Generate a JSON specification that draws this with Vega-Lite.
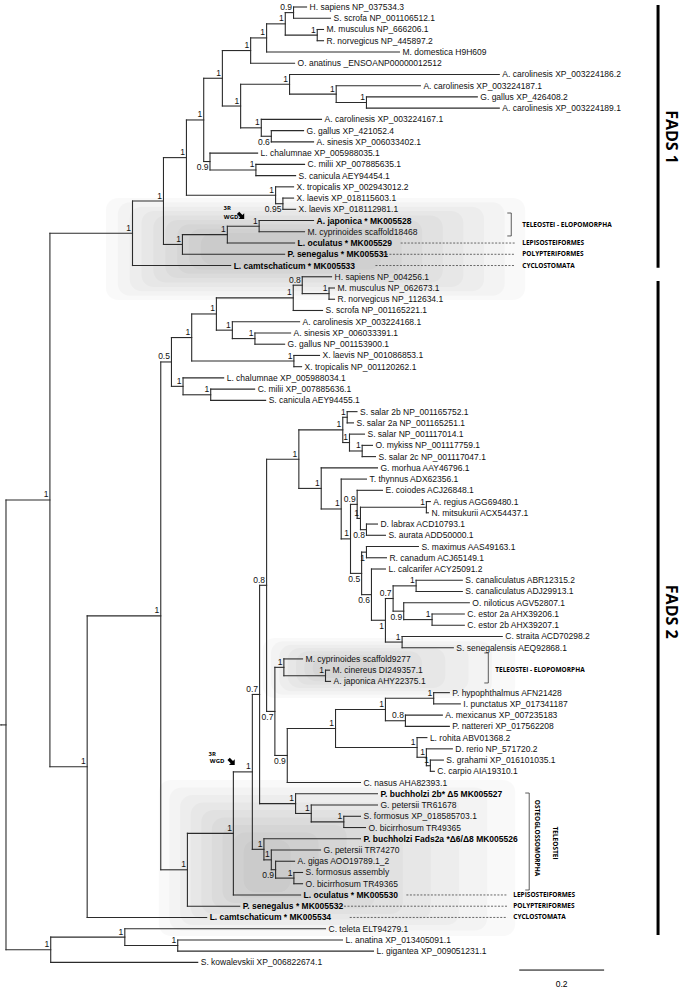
{
"$schema":"https://vega.github.io/schema/vega-lite/v6.json",
"autosize":{"type":"fit","contains":"padding"},
"width":685,"height":990,"padding":0,"background":"white",
"config":{"view":{"stroke":null}},
"datasets":{
"tree":[
{"id":"stub","p":null,"x":-0.0118,"y":64.87},
{"id":"root","p":"stub","x":0,"y":64.87},
{"id":"top","p":"root","x":0.1035,"y":44.86,"s":"1"},
{"id":"FC","p":"root","x":0.1054,"y":84.875,"s":"1"},
{"id":"FB","p":"FC","x":0.28,"y":83.75,"s":"1"},
{"id":"FA","p":"FB","x":0.4047,"y":84.5,"s":"1"},
{"id":"Z","p":"top","x":0.2981,"y":21.13,"s":"1"},
{"id":"Y","p":"Z","x":0.3711,"y":18.26,"s":"1"},
{"id":"R","p":"Y","x":0.4252,"y":14.4,"s":"1"},
{"id":"X","p":"Y","x":0.4158,"y":22.125,"s":"1"},
{"id":"W","p":"X","x":0.5216,"y":21.25,"s":"1"},
{"id":"V","p":"W","x":0.5965,"y":20.5,"s":"1"},
{"id":"Q","p":"R","x":0.4659,"y":11.05,"s":"1"},
{"id":"T","p":"R","x":0.6353,"y":17.75,"s":"1"},
{"id":"S","p":"T","x":0.6525,"y":18.5,"s":"0.95"},
{"id":"F","p":"Q","x":0.5099,"y":7.34,"s":"1"},
{"id":"P","p":"Q","x":0.4807,"y":14.75,"s":"0.9"},
{"id":"O","p":"P","x":0.5889,"y":15.5,"s":"1"},
{"id":"E","p":"F","x":0.5765,"y":4.875,"s":"1"},
{"id":"L","p":"F","x":0.5529,"y":9.81,"s":"1"},
{"id":"D","p":"E","x":0.6141,"y":3.75,"s":"1"},
{"id":"C","p":"D","x":0.6581,"y":2.5,"s":"1"},
{"id":"A","p":"C","x":0.6776,"y":1.5,"s":"0.9"},
{"id":"B","p":"C","x":0.7334,"y":3.5,"s":"1"},
{"id":"I","p":"L","x":0.6682,"y":7.875,"s":"1"},
{"id":"H","p":"I","x":0.7781,"y":8.75,"s":"1"},
{"id":"G","p":"H","x":0.8494,"y":9.5,"s":"1"},
{"id":"K","p":"L","x":0.6016,"y":11.75,"s":"1"},
{"id":"J","p":"K","x":0.6252,"y":12.5,"s":"0.6"},
{"id":"AA","p":"top","x":0.1913,"y":68.59,"s":"1"},
{"id":"BL","p":"AA","x":0.3647,"y":55.17,"s":"1"},
{"id":"BK","p":"BL","x":0.3899,"y":32.58,"s":"0.5"},
{"id":"BH","p":"BK","x":0.4376,"y":30.41,"s":"1"},
{"id":"BJ","p":"BK","x":0.4172,"y":34.75,"s":"1"},
{"id":"BI","p":"BJ","x":0.4824,"y":35.5,"s":"1"},
{"id":"BF","p":"BH","x":0.4958,"y":28.31,"s":"1"},
{"id":"BG","p":"BH","x":0.6784,"y":32.5,"s":"1"},
{"id":"BC","p":"BF","x":0.6769,"y":26.875,"s":"1"},
{"id":"BE","p":"BF","x":0.5334,"y":29.75,"s":"1"},
{"id":"BA","p":"BC","x":0.6981,"y":25.75,"s":"0.8"},
{"id":"BB","p":"BA","x":0.7612,"y":26.5,"s":"1"},
{"id":"BD","p":"BE","x":0.5866,"y":30.5,"s":"1"},
{"id":"BM","p":"BL","x":0.4275,"y":77.76,"s":"1"},
{"id":"BN","p":"BM","x":0.5358,"y":74.52,"s":"1"},
{"id":"BO","p":"BN","x":0.5805,"y":69.05,"s":"1"},
{"id":"BS","p":"BO","x":0.5976,"y":62.16,"s":"0.7"},
{"id":"BQ","p":"BO","x":0.6078,"y":75.94,"s":"1"},
{"id":"CW","p":"BS","x":0.6141,"y":52.45,"s":"0.8"},
{"id":"BR","p":"BS","x":0.6824,"y":71.875,"s":"1"},
{"id":"EB","p":"BR","x":0.7193,"y":72.75,"s":"1"},
{"id":"EA","p":"EB","x":0.796,"y":73.5,"s":"1"},
{"id":"EE","p":"BQ","x":0.6252,"y":76.875,"s":"1"},
{"id":"ED","p":"EE","x":0.6353,"y":77.75,"s":"0.9"},
{"id":"EC","p":"ED","x":0.6784,"y":78.5,"s":"1"},
{"id":"CV","p":"CW","x":0.6901,"y":41.23,"s":"1"},
{"id":"DK","p":"CW","x":0.6336,"y":63.67,"s":"0.7"},
{"id":"CD","p":"CV","x":0.7936,"y":38.625,"s":"1"},
{"id":"CU","p":"CV","x":0.7428,"y":43.83,"s":"1"},
{"id":"CA","p":"CD","x":0.804,"y":37.5,"s":"1"},
{"id":"CC","p":"CD","x":0.8094,"y":39.75,"s":"1"},
{"id":"CB","p":"CC","x":0.8393,"y":40.5,"s":"1"},
{"id":"CT","p":"CU","x":0.7899,"y":45.66,"s":"1"},
{"id":"CS","p":"CT","x":0.8118,"y":48.32,"s":"1"},
{"id":"CH","p":"CS","x":0.8275,"y":45.25,"s":"0.9"},
{"id":"CG","p":"CH","x":0.8353,"y":46.5,"s":"1"},
{"id":"CE","p":"CG","x":0.9906,"y":45.5,"s":"1"},
{"id":"CF","p":"CG","x":0.8494,"y":47.5,"s":"0.8"},
{"id":"CR","p":"CS","x":0.838,"y":51.39,"s":"0.5"},
{"id":"CI","p":"CR","x":0.8494,"y":49.5,"s":"1"},
{"id":"CQ","p":"CR","x":0.8612,"y":53.28,"s":"0.6"},
{"id":"CO","p":"CQ","x":0.8941,"y":55.56,"s":"1"},
{"id":"CN","p":"CO","x":0.9122,"y":53.625,"s":"0.7"},
{"id":"CP","p":"CO","x":0.9334,"y":57.5,"s":"1"},
{"id":"CK","p":"CN","x":0.9664,"y":52.5,"s":"1"},
{"id":"CM","p":"CN","x":0.9372,"y":54.75,"s":"0.9"},
{"id":"CL","p":"CM","x":1.004,"y":55.5,"s":"1"},
{"id":"DB","p":"DK","x":0.6548,"y":59.75,"s":"1"},
{"id":"DA","p":"DB","x":0.7529,"y":60.5,"s":"1"},
{"id":"DJ","p":"DK","x":0.6628,"y":67.59,"s":"0.9"},
{"id":"DI","p":"DJ","x":0.7765,"y":65.19,"s":"1"},
{"id":"DE","p":"DI","x":0.8941,"y":63.5,"s":"1"},
{"id":"DC","p":"DE","x":1.0078,"y":62.5,"s":"1"},
{"id":"DD","p":"DE","x":0.9412,"y":64.5,"s":"0.8"},
{"id":"DH","p":"DI","x":0.9687,"y":66.875,"s":"1"},
{"id":"DG","p":"DH","x":0.9906,"y":67.75,"s":"1"},
{"id":"DF","p":"DG","x":1.0,"y":68.5,"s":"1"},
{"id":"t1","p":"A","x":0.7082,"y":1,"label":"H. sapiens NP_037534.3"},
{"id":"t2","p":"A","x":0.7647,"y":2,"label":"S. scrofa  NP_001106512.1"},
{"id":"t3","p":"B","x":0.7482,"y":3,"label":"M. musculus NP_666206.1"},
{"id":"t4","p":"B","x":0.7482,"y":4,"label":"R. norvegicus  NP_445897.2"},
{"id":"t5","p":"D","x":0.9271,"y":5,"label":"M. domestica H9H609"},
{"id":"t6","p":"E","x":0.68,"y":6,"label":"O. anatinus _ENSOANP00000012512"},
{"id":"t7","p":"I","x":1.1624,"y":7,"label":"A. carolinesis XP_003224186.2"},
{"id":"t8","p":"H","x":0.9765,"y":8,"label":"A. carolinesis XP_003224187.1"},
{"id":"t9","p":"G","x":1.1106,"y":9,"label":"G. gallus XP_426408.2"},
{"id":"t10","p":"G","x":1.1624,"y":10,"label":"A. carolinesis XP_003224189.1"},
{"id":"t11","p":"K","x":0.7435,"y":11,"label":"A. carolinesis XP_003224167.1"},
{"id":"t12","p":"J","x":0.7012,"y":12,"label":"G. gallus XP_421052.4"},
{"id":"t13","p":"J","x":0.7247,"y":13,"label":"A. sinesis XP_006033402.1"},
{"id":"t14","p":"P","x":0.5929,"y":14,"label":"L. chalumnae XP_005988035.1"},
{"id":"t15","p":"O","x":0.7035,"y":15,"label":"C. milii XP_007885635.1"},
{"id":"t16","p":"O","x":0.6824,"y":16,"label":"S. canicula AEY94454.1"},
{"id":"t17","p":"T","x":0.6776,"y":17,"label":"X. tropicalis XP_002943012.2"},
{"id":"t18","p":"S","x":0.6776,"y":18,"label":"X. laevis XP_018115603.1"},
{"id":"t19","p":"S","x":0.6824,"y":19,"label":"X. laevis  XP_018112981.1"},
{"id":"t20","p":"V","x":0.7247,"y":20,"label":"A. japonica * MK005528"},
{"id":"t21","p":"V","x":0.7035,"y":21,"label":"M. cyprinoides scaffold18468"},
{"id":"t22","p":"W","x":0.68,"y":22,"label":"L. oculatus * MK005529"},
{"id":"t23","p":"X","x":0.6565,"y":23,"label":"P. senegalus * MK005531"},
{"id":"t24","p":"Z","x":0.5294,"y":24,"label":"L. camtschaticum * MK005533"},
{"id":"t25","p":"BA","x":0.7671,"y":25,"label":"H. sapiens NP_004256.1"},
{"id":"t26","p":"BB","x":0.7741,"y":26,"label":"M. musculus NP_062673.1"},
{"id":"t27","p":"BB","x":0.7741,"y":27,"label":"R. norvegicus NP_112634.1"},
{"id":"t28","p":"BC","x":0.7459,"y":28,"label":"S. scrofa NP_001165221.1"},
{"id":"t29","p":"BE","x":0.6918,"y":29,"label":"A. carolinesis XP_003224168.1"},
{"id":"t30","p":"BD","x":0.6706,"y":30,"label":"A. sinesis XP_006033391.1"},
{"id":"t31","p":"BD","x":0.6565,"y":31,"label":"G. gallus NP_001153900.1"},
{"id":"t32","p":"BG","x":0.7388,"y":32,"label":"X. laevis NP_001086853.1"},
{"id":"t33","p":"BG","x":0.6965,"y":33,"label":"X. tropicalis NP_001120262.1"},
{"id":"t34","p":"BJ","x":0.5129,"y":34,"label":"L. chalumnae XP_005988034.1"},
{"id":"t35","p":"BI","x":0.5859,"y":35,"label":"C. milii XP_007885636.1"},
{"id":"t36","p":"BI","x":0.6118,"y":36,"label":"S. canicula AEY94455.1"},
{"id":"t37","p":"CA","x":0.8271,"y":37,"label":"S. salar 2b NP_001165752.1"},
{"id":"t38","p":"CA","x":0.8188,"y":38,"label":"S. salar 2a NP_001165251.1"},
{"id":"t39","p":"CC","x":0.8447,"y":39,"label":"S. salar NP_001117014.1"},
{"id":"t40","p":"CB","x":0.8635,"y":40,"label":"O. mykiss NP_001117759.1"},
{"id":"t41","p":"CB","x":0.8706,"y":41,"label":"S. salar 2c NP_001117047.1"},
{"id":"t42","p":"CU","x":0.8753,"y":42,"label":"G. morhua AAY46796.1"},
{"id":"t43","p":"CT","x":0.8494,"y":43,"label":"T. thynnus ADX62356.1"},
{"id":"t44","p":"CH","x":0.8871,"y":44,"label":"E. coiodes ACJ26848.1"},
{"id":"t45","p":"CE","x":1.0,"y":45,"label":"A. regius AGG69480.1"},
{"id":"t46","p":"CE","x":0.9953,"y":46,"label":"N. mitsukurii ACX54437.1"},
{"id":"t47","p":"CF","x":0.8753,"y":47,"label":"D. labrax ACD10793.1"},
{"id":"t48","p":"CF","x":0.8941,"y":48,"label":"S. aurata ADD50000.1"},
{"id":"t49","p":"CI","x":0.9718,"y":49,"label":"S. maximus AAS49163.1"},
{"id":"t50","p":"CI","x":0.8965,"y":50,"label":"R. canadum ACJ65149.1"},
{"id":"t51","p":"CQ","x":0.8941,"y":51,"label":"L. calcarifer ACY25091.2"},
{"id":"t52","p":"CK","x":1.0753,"y":52,"label":"S. canaliculatus ABR12315.2"},
{"id":"t53","p":"CK","x":1.0753,"y":53,"label":"S. canaliculatus ADJ29913.1"},
{"id":"t54","p":"CM","x":1.0918,"y":54,"label":"O. niloticus AGV52807.1"},
{"id":"t55","p":"CL","x":1.08,"y":55,"label":"C. estor 2a AHX39206.1"},
{"id":"t56","p":"CL","x":1.08,"y":56,"label":"C. estor 2b AHX39207.1"},
{"id":"t57","p":"CP","x":1.1694,"y":57,"label":"C. straita ACD70298.2"},
{"id":"t58","p":"CP","x":1.0541,"y":58,"label":"S. senegalensis AEQ92868.1"},
{"id":"t59","p":"DB","x":0.6988,"y":59,"label":"M. cyprinoides scaffold9277"},
{"id":"t60","p":"DA","x":0.7624,"y":60,"label":"M. cinereus DI249357.1"},
{"id":"t61","p":"DA","x":0.7647,"y":61,"label":"A. japonica AHY22375.1"},
{"id":"t62","p":"DC","x":1.0447,"y":62,"label":"P. hypophthalmus AFN21428"},
{"id":"t63","p":"DC","x":1.0706,"y":63,"label":"I. punctatus XP_017341187"},
{"id":"t64","p":"DD","x":1.0282,"y":64,"label":"A. mexicanus XP_007235183"},
{"id":"t65","p":"DD","x":1.0447,"y":65,"label":"P. nattereri XP_017562208"},
{"id":"t66","p":"DH","x":0.9918,"y":66,"label":"L. rohita ABV01368.2"},
{"id":"t67","p":"DG","x":1.0518,"y":67,"label":"D. rerio NP_571720.2"},
{"id":"t68","p":"DF","x":1.0306,"y":68,"label":"S. grahami XP_016101035.1"},
{"id":"t69","p":"DF","x":1.0094,"y":69,"label":"C. carpio AIA19310.1"},
{"id":"t70","p":"DJ","x":0.8353,"y":70,"label":"C. nasus AHA82393.1"},
{"id":"t71","p":"BR","x":0.8753,"y":71,"label":"P. buchholzi 2b* Δ5 MK005527"},
{"id":"t72","p":"EB","x":0.8753,"y":72,"label":"G. petersii TR61678"},
{"id":"t73","p":"EA","x":0.8353,"y":73,"label":"S. formosus XP_018585703.1"},
{"id":"t74","p":"EA","x":0.8471,"y":74,"label":"O. bicirrhosum TR49365"},
{"id":"t75","p":"BQ","x":0.8353,"y":75,"label":"P. buchholzi Fads2a *Δ6/Δ8 MK005526"},
{"id":"t76","p":"EE","x":0.7412,"y":76,"label":"G. petersii TR74270"},
{"id":"t77","p":"ED","x":0.68,"y":77,"label":"A. gigas AOO19789.1_2"},
{"id":"t78","p":"EC","x":0.6988,"y":78,"label":"S. formosus assembly"},
{"id":"t79","p":"EC","x":0.6988,"y":79,"label":"O. bicirrhosum TR49365"},
{"id":"t80","p":"BN","x":0.6941,"y":80,"label":"L. oculatus * MK005530"},
{"id":"t81","p":"BM","x":0.5506,"y":81,"label":"P. senegalus * MK005532"},
{"id":"t82","p":"AA","x":0.4729,"y":82,"label":"L. camtschaticum * MK005534"},
{"id":"t83","p":"FB","x":0.7529,"y":83,"label":"C. teleta ELT94279.1"},
{"id":"t84","p":"FA","x":0.7929,"y":84,"label":"L. anatina XP_013405091.1"},
{"id":"t85","p":"FA","x":0.8659,"y":85,"label":"L. gigantea XP_009051231.1"},
{"id":"t86","p":"FC","x":0.4518,"y":86,"label":"S. kowalevskii XP_006822674.1"}
],
"shade":[
{"x":0.2353,"x2":1.2235,"y":17.99,"y2":27.07},
{"x":0.2633,"x2":1.1751,"y":18.38,"y2":26.68},
{"x":0.2913,"x2":1.1266,"y":18.78,"y2":26.29},
{"x":0.3191,"x2":1.0779,"y":19.16,"y2":25.9},
{"x":0.3471,"x2":1.0294,"y":19.55,"y2":25.51},
{"x":0.3751,"x2":0.9809,"y":19.94,"y2":25.12},
{"x":0.4031,"x2":0.9325,"y":20.33,"y2":24.74},
{"x":0.4308,"x2":0.8838,"y":20.72,"y2":24.35},
{"x":0.4588,"x2":0.8353,"y":21.11,"y2":23.95},
{"x":0.6047,"x2":1.2,"y":57.14,"y2":62.48},
{"x":0.6242,"x2":1.1452,"y":57.43,"y2":62.18},
{"x":0.644,"x2":1.0901,"y":57.73,"y2":61.88},
{"x":0.6635,"x2":1.0353,"y":58.03,"y2":61.58},
{"x":0.6831,"x2":0.9805,"y":58.32,"y2":61.29},
{"x":0.7028,"x2":0.9254,"y":58.62,"y2":60.99},
{"x":0.7224,"x2":0.8706,"y":58.92,"y2":60.7},
{"x":0.36,"x2":1.2,"y":69.77,"y2":83.65},
{"x":0.3849,"x2":1.1339,"y":70.44,"y2":83.16},
{"x":0.4101,"x2":1.0678,"y":71.11,"y2":82.67},
{"x":0.4351,"x2":1.0014,"y":71.77,"y2":82.18},
{"x":0.46,"x2":0.9353,"y":72.44,"y2":81.69},
{"x":0.4849,"x2":0.8692,"y":73.11,"y2":81.2},
{"x":0.5101,"x2":0.8031,"y":73.78,"y2":80.72},
{"x":0.5351,"x2":0.7367,"y":74.44,"y2":80.23},
{"x":0.56,"x2":0.6706,"y":75.11,"y2":79.75}
],
"dashes":[
{"x":0.93,"x2":1.2,"y":22},{"x":0.887,"x2":1.2,"y":23},{"x":0.8706,"x2":1.2,"y":24},
{"x":0.9435,"x2":1.1812,"y":80},{"x":0.78,"x2":1.1812,"y":81},{"x":0.81,"x2":1.1812,"y":82}
],
"brackets":[
{"x":1.1906,"x2":1.1906,"y":19.33,"y2":21.37},{"x":1.1812,"x2":1.1906,"y":19.33,"y2":19.33},{"x":1.1812,"x2":1.1906,"y":21.37,"y2":21.37},
{"x":1.1365,"x2":1.1365,"y":58.47,"y2":61.14},{"x":1.1271,"x2":1.1365,"y":58.47,"y2":58.47},{"x":1.1271,"x2":1.1365,"y":61.14,"y2":61.14},
{"x":1.2329,"x2":1.2329,"y":70.93,"y2":79.56},{"x":1.2235,"x2":1.2329,"y":70.93,"y2":70.93},{"x":1.2235,"x2":1.2329,"y":79.56,"y2":79.56}
],
"clades":[
{"t":"TELEOSTEI - ELOPOMORPHA","x":1.2165,"y":20.4},
{"t":"LEPISOSTEIFORMES","x":1.2165,"y":22},
{"t":"POLYPTERIFORMES","x":1.2165,"y":23},
{"t":"CYCLOSTOMATA","x":1.2165,"y":24},
{"t":"TELEOSTEI - ELOPOMORPHA","x":1.1529,"y":60},
{"t":"LEPISOSTEIFORMES","x":1.1953,"y":80},
{"t":"POLYPTERIFORMES","x":1.1953,"y":81},
{"t":"CYCLOSTOMATA","x":1.1953,"y":82}
],
"vclades":[
{"t":"OSTEOGLOSSOMORPHA","x":1.2518,"y":74.93},
{"t":"TELEOSTEI","x":1.2941,"y":75.38}
],
"bars":[{"x":1.5365,"y":0.82,"y2":24.2},{"x":1.5365,"y":25.38,"y2":83.56}],
"fads":[{"t":"FADS 1","x":1.567,"y":12.57},{"t":"FADS 2","x":1.567,"y":54.8}],
"wgd":[{"t":"3R","x":0.5212,"y":18.88},{"t":"WGD","x":0.5306,"y":19.68},{"t":"3R","x":0.4859,"y":67.46},{"t":"WGD","x":0.4976,"y":68.08}],
"arrows":[{"x":0.5541,"y":19.59},{"x":0.5318,"y":68.17}],
"scalebar":[{"x":1.2094,"x2":1.4094,"y":86.68,"t":"0.2","ty":87.95,"tx":1.3094}]
},
"layer":[
{"data":{"name":"shade"},
 "mark":{"type":"rect","color":"#000","opacity":0.022,"cornerRadius":12},
 "encoding":{"x":{"field":"x","type":"quantitative","scale":{"domain":[-0.01176,1.6],"nice":false,"zero":false},"axis":null},"x2":{"field":"x2"},
 "y":{"field":"y","type":"quantitative","scale":{"domain":[0.3772,88.455],"nice":false,"zero":false,"reverse":true},"axis":null},"y2":{"field":"y2"}}},
{"data":{"name":"tree"},
 "transform":[{"filter":"datum.p != null"},{"lookup":"p","from":{"data":{"name":"tree"},"key":"id","fields":["x"]},"as":["px"]}],
 "mark":{"type":"rule","color":"#2b2b2b","strokeWidth":1.1,"strokeCap":"square"},
 "encoding":{"x":{"field":"px","type":"quantitative","scale":{"domain":[-0.01176,1.6],"nice":false,"zero":false},"axis":null},"x2":{"field":"x"},
 "y":{"field":"y","type":"quantitative","scale":{"domain":[0.3772,88.455],"nice":false,"zero":false,"reverse":true},"axis":null}}},
{"data":{"name":"tree"},
 "transform":[{"filter":"datum.p != null"},{"aggregate":[{"op":"min","field":"y","as":"y1"},{"op":"max","field":"y","as":"y2"}],"groupby":["p"]},{"lookup":"p","from":{"data":{"name":"tree"},"key":"id","fields":["x"]},"as":["vx"]}],
 "mark":{"type":"rule","color":"#2b2b2b","strokeWidth":1.1,"strokeCap":"square"},
 "encoding":{"x":{"field":"vx","type":"quantitative","scale":{"domain":[-0.01176,1.6],"nice":false,"zero":false},"axis":null},
 "y":{"field":"y1","type":"quantitative","scale":{"domain":[0.3772,88.455],"nice":false,"zero":false,"reverse":true},"axis":null},"y2":{"field":"y2"}}},
{"data":{"name":"dashes"},
 "mark":{"type":"rule","color":"#444","strokeWidth":0.8,"strokeDash":[2,1.5]},
 "encoding":{"x":{"field":"x","type":"quantitative","scale":{"domain":[-0.01176,1.6],"nice":false,"zero":false},"axis":null},"x2":{"field":"x2"},
 "y":{"field":"y","type":"quantitative","scale":{"domain":[0.3772,88.455],"nice":false,"zero":false,"reverse":true},"axis":null}}},
{"data":{"name":"brackets"},
 "mark":{"type":"rule","color":"#333","strokeWidth":0.8},
 "encoding":{"x":{"field":"x","type":"quantitative","scale":{"domain":[-0.01176,1.6],"nice":false,"zero":false},"axis":null},"x2":{"field":"x2"},
 "y":{"field":"y","type":"quantitative","scale":{"domain":[0.3772,88.455],"nice":false,"zero":false,"reverse":true},"axis":null},"y2":{"field":"y2"}}},
{"data":{"name":"tree"},
 "transform":[{"filter":"datum.label != null && indexof(datum.label, 'MK00') < 0"}],
 "mark":{"type":"text","align":"left","baseline":"middle","dx":3,"font":"Liberation Sans","fontSize":8.5,"color":"#111"},
 "encoding":{"x":{"field":"x","type":"quantitative","scale":{"domain":[-0.01176,1.6],"nice":false,"zero":false},"axis":null},
 "y":{"field":"y","type":"quantitative","scale":{"domain":[0.3772,88.455],"nice":false,"zero":false,"reverse":true},"axis":null},"text":{"field":"label"}}},
{"data":{"name":"tree"},
 "transform":[{"filter":"datum.label != null && indexof(datum.label, 'MK00') >= 0"}],
 "mark":{"type":"text","align":"left","baseline":"middle","dx":3,"font":"Liberation Sans","fontSize":8.5,"fontWeight":"bold","color":"#000"},
 "encoding":{"x":{"field":"x","type":"quantitative","scale":{"domain":[-0.01176,1.6],"nice":false,"zero":false},"axis":null},
 "y":{"field":"y","type":"quantitative","scale":{"domain":[0.3772,88.455],"nice":false,"zero":false,"reverse":true},"axis":null},"text":{"field":"label"}}},
{"data":{"name":"tree"},
 "transform":[{"filter":"datum.s != null && indexof(['J','P','S','ED','CF','CR','CI','CQ','CM','CO','DK','DJ'], datum.id) < 0"}],
 "mark":{"type":"text","align":"right","baseline":"alphabetic","dx":-1.5,"dy":-2.5,"font":"Liberation Sans","fontSize":8.5,"color":"#111"},
 "encoding":{"x":{"field":"x","type":"quantitative","scale":{"domain":[-0.01176,1.6],"nice":false,"zero":false},"axis":null},
 "y":{"field":"y","type":"quantitative","scale":{"domain":[0.3772,88.455],"nice":false,"zero":false,"reverse":true},"axis":null},"text":{"field":"s"}}},
{"data":{"name":"tree"},
 "transform":[{"filter":"datum.s != null && indexof(['J','P','S','ED','CF','CR','CI','CQ','CM','CO','DK','DJ'], datum.id) >= 0"}],
 "mark":{"type":"text","align":"right","baseline":"top","dx":-1.5,"dy":1.5,"font":"Liberation Sans","fontSize":8.5,"color":"#111"},
 "encoding":{"x":{"field":"x","type":"quantitative","scale":{"domain":[-0.01176,1.6],"nice":false,"zero":false},"axis":null},
 "y":{"field":"y","type":"quantitative","scale":{"domain":[0.3772,88.455],"nice":false,"zero":false,"reverse":true},"axis":null},"text":{"field":"s"}}},
{"data":{"name":"clades"},
 "mark":{"type":"text","align":"left","baseline":"middle","font":"Open Sans","fontSize":6.5,"fontWeight":"bold","color":"#000"},
 "encoding":{"x":{"field":"x","type":"quantitative","scale":{"domain":[-0.01176,1.6],"nice":false,"zero":false},"axis":null},
 "y":{"field":"y","type":"quantitative","scale":{"domain":[0.3772,88.455],"nice":false,"zero":false,"reverse":true},"axis":null},"text":{"field":"t"}}},
{"data":{"name":"vclades"},
 "mark":{"type":"text","align":"center","baseline":"middle","angle":90,"font":"Open Sans","fontSize":6.5,"fontWeight":"bold","color":"#000"},
 "encoding":{"x":{"field":"x","type":"quantitative","scale":{"domain":[-0.01176,1.6],"nice":false,"zero":false},"axis":null},
 "y":{"field":"y","type":"quantitative","scale":{"domain":[0.3772,88.455],"nice":false,"zero":false,"reverse":true},"axis":null},"text":{"field":"t"}}},
{"data":{"name":"bars"},
 "mark":{"type":"rule","color":"#000","strokeWidth":3},
 "encoding":{"x":{"field":"x","type":"quantitative","scale":{"domain":[-0.01176,1.6],"nice":false,"zero":false},"axis":null},
 "y":{"field":"y","type":"quantitative","scale":{"domain":[0.3772,88.455],"nice":false,"zero":false,"reverse":true},"axis":null},"y2":{"field":"y2"}}},
{"data":{"name":"fads"},
 "mark":{"type":"text","align":"center","baseline":"middle","angle":90,"font":"Open Sans","fontSize":16,"fontWeight":"bold","color":"#000"},
 "encoding":{"x":{"field":"x","type":"quantitative","scale":{"domain":[-0.01176,1.6],"nice":false,"zero":false},"axis":null},
 "y":{"field":"y","type":"quantitative","scale":{"domain":[0.3772,88.455],"nice":false,"zero":false,"reverse":true},"axis":null},"text":{"field":"t"}}},
{"data":{"name":"wgd"},
 "mark":{"type":"text","align":"center","baseline":"middle","font":"Open Sans","fontSize":6,"fontWeight":"bold","color":"#000"},
 "encoding":{"x":{"field":"x","type":"quantitative","scale":{"domain":[-0.01176,1.6],"nice":false,"zero":false},"axis":null},
 "y":{"field":"y","type":"quantitative","scale":{"domain":[0.3772,88.455],"nice":false,"zero":false,"reverse":true},"axis":null},"text":{"field":"t"}}},
{"data":{"name":"arrows"},
 "mark":{"type":"point","shape":"M-0.38,-1L0.38,-1L0.38,0.05L0.95,0.05L0,1L-0.95,0.05L-0.38,0.05Z","filled":true,"color":"#000","size":75,"angle":-45,"opacity":1},
 "encoding":{"x":{"field":"x","type":"quantitative","scale":{"domain":[-0.01176,1.6],"nice":false,"zero":false},"axis":null},
 "y":{"field":"y","type":"quantitative","scale":{"domain":[0.3772,88.455],"nice":false,"zero":false,"reverse":true},"axis":null}}},
{"data":{"name":"scalebar"},
 "mark":{"type":"rule","color":"#000","strokeWidth":1},
 "encoding":{"x":{"field":"x","type":"quantitative","scale":{"domain":[-0.01176,1.6],"nice":false,"zero":false},"axis":null},"x2":{"field":"x2"},
 "y":{"field":"y","type":"quantitative","scale":{"domain":[0.3772,88.455],"nice":false,"zero":false,"reverse":true},"axis":null}}},
{"data":{"name":"scalebar"},
 "mark":{"type":"text","align":"center","baseline":"middle","font":"Liberation Sans","fontSize":8.5,"color":"#000"},
 "encoding":{"x":{"field":"tx","type":"quantitative","scale":{"domain":[-0.01176,1.6],"nice":false,"zero":false},"axis":null},
 "y":{"field":"ty","type":"quantitative","scale":{"domain":[0.3772,88.455],"nice":false,"zero":false,"reverse":true},"axis":null},"text":{"field":"t"}}}
]
}
